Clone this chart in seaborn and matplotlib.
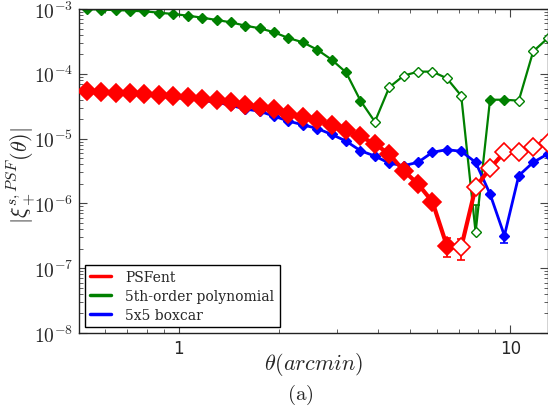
import numpy as np
import matplotlib
matplotlib.use("Agg")
import matplotlib.pyplot as plt
import seaborn as sns
from matplotlib.ticker import LogLocator, FixedLocator, FuncFormatter, NullFormatter

# ---- data ----
theta = [0.528, 0.584, 0.645, 0.713, 0.788, 0.871, 0.963, 1.064, 1.176, 1.300,
         1.436, 1.587, 1.755, 1.939, 2.143, 2.369, 2.618, 2.893, 3.197, 3.533,
         3.905, 4.315, 4.769, 5.271, 5.825, 6.437, 7.114, 7.862, 8.690, 9.604,
         10.61, 11.73, 12.97]

psfent = [5.48e-5, 5.30e-5, 5.00e-5, 5.00e-5, 4.88e-5, 4.71e-5, 4.50e-5, 4.34e-5, 4.08e-5, 3.94e-5,
          3.63e-5, 3.34e-5, 3.04e-5, 2.86e-5, 2.40e-5, 2.13e-5, 1.96e-5, 1.62e-5, 1.37e-5, 1.08e-5,
          8.26e-6, 5.78e-6, 3.20e-6, 1.99e-6, 1.06e-6, 2.22e-7, 2.10e-7, 1.77e-6, 3.48e-6, 6.15e-6,
          6.15e-6, 7.34e-6, 8.55e-6]
psfent_open = [0]*26 + [1]*7
psfent_err = [0]*25 + [0.75e-7, 0.75e-7] + [0]*6

poly5 = [1.00e-3, 9.75e-4, 9.65e-4, 9.42e-4, 9.21e-4, 8.77e-4, 8.37e-4, 7.89e-4, 7.35e-4, 6.77e-4,
         6.23e-4, 5.53e-4, 5.04e-4, 4.37e-4, 3.56e-4, 3.06e-4, 2.35e-4, 1.65e-4, 1.05e-4, 3.85e-5,
         1.82e-5, 6.19e-5, 9.36e-5, 1.08e-4, 1.08e-4, 8.53e-5, 4.59e-5, 3.58e-7, 3.98e-5, 3.98e-5,
         3.85e-5, 2.22e-4, 3.53e-4]
poly5_open = [0]*20 + [1]*8 + [0, 0] + [1]*3
poly5_err_up = [0]*27 + [5.8e-7] + [0]*5

boxcar = [5.35e-5, 5.20e-5, 4.90e-5, 4.85e-5, 4.70e-5, 4.50e-5, 4.30e-5, 4.10e-5, 3.85e-5, 3.65e-5,
          3.25e-5, 2.86e-5, 2.64e-5, 2.22e-5, 1.86e-5, 1.63e-5, 1.43e-5, 1.16e-5, 9.14e-6, 6.50e-6,
          5.38e-6, 4.17e-6, 3.82e-6, 4.31e-6, 6.15e-6, 6.75e-6, 6.37e-6, 4.31e-6, 1.40e-6, 3.18e-7,
          2.68e-6, 4.31e-6, 5.78e-6]
boxcar_err = [0]*29 + [0.76e-7] + [0]*3

labels = ["PSFent", "5th-order polynomial", "5x5 boxcar"]
colors = ["#ff0000", "#008000", "#0000ff"]

# ---- style ----
sns.set_style("ticks")
plt.rcParams['font.family'] = ['DejaVu Sans']
plt.rcParams['mathtext.fontset'] = 'cm'

fig = plt.figure(figsize=(5.48, 4.10), dpi=100)
ax = fig.add_axes([79/548, 1-334/410, 469/548, 324/410])

th = np.array(theta)

def draw(vals, openflags, color, lw, ms, mew, label, yerr=None, z=2):
    vals = np.array(vals)
    op = np.array(openflags, dtype=bool)
    sns.lineplot(x=th, y=vals, color=color, lw=lw, ax=ax, label=label, sort=False, zorder=z)
    if yerr is not None:
        ax.errorbar(th, vals, yerr=yerr, fmt='none', ecolor=color, elinewidth=1.2,
                    capsize=3, capthick=1.2, zorder=z)
    ax.plot(th[~op], vals[~op], 'D', color=color, ms=ms, mew=mew, mec=color, mfc=color,
            linestyle='none', zorder=z + 0.5)
    ax.plot(th[op], vals[op], 'D', color=color, ms=ms, mew=mew, mec=color, mfc='white',
            linestyle='none', zorder=z + 0.5)

pe = np.array(psfent_err)
draw(psfent, psfent_open, colors[0], 3.0, 9, 1.2, labels[0], yerr=pe, z=4)
pu = np.array(poly5_err_up)
draw(poly5, poly5_open, colors[1], 1.6, 5.5, 1.0, labels[1],
     yerr=np.vstack([np.zeros_like(pu), pu]), z=2)
be = np.array(boxcar_err)
draw(boxcar, [0]*33, colors[2], 2.0, 5.5, 1.0, labels[2],
     yerr=np.vstack([be, np.zeros_like(be)]), z=3)

ax.set_xscale('log')
ax.set_yscale('log')
ax.set_xlim(0.5, 13.0)
ax.set_ylim(1e-8, 1e-3)

ax.yaxis.set_major_locator(FixedLocator([1e-8, 1e-7, 1e-6, 1e-5, 1e-4, 1e-3]))
ax.yaxis.set_major_formatter(FuncFormatter(lambda v, p: r"$10^{%d}$" % int(round(np.log10(v)))))
ax.yaxis.set_minor_locator(LogLocator(base=10, subs=np.arange(2, 10), numticks=20))
ax.yaxis.set_minor_formatter(NullFormatter())
ax.xaxis.set_major_locator(FixedLocator([1, 10]))
ax.xaxis.set_major_formatter(FuncFormatter(lambda v, p: "%d" % v))
ax.xaxis.set_minor_locator(LogLocator(base=10, subs=np.arange(2, 10), numticks=20))
ax.xaxis.set_minor_formatter(NullFormatter())

ax.tick_params(which='both', direction='in', top=True, right=True, color='#444444')
ax.tick_params(which='major', length=6, width=0.8)
ax.tick_params(which='minor', length=3, width=0.6)
ax.tick_params(axis='y', which='major', labelsize=14, pad=4)
ax.tick_params(axis='x', which='major', labelsize=12, pad=4)
for s in ax.spines.values():
    s.set_color('#222222')
    s.set_linewidth(1.0)

ax.set_ylabel(r"$|\xi_+^{s,PSF}(\theta)|$", fontsize=16, va='center')
ax.yaxis.set_label_coords(-0.124, 0.49)
ax.set_xlabel(r"$\theta(arcmin)$", fontsize=16, va='center')
ax.xaxis.set_label_coords(0.5, -0.093)
fig.text(300/548, 1-395/410, r"$(\mathrm{a})$", fontsize=15, ha='center', va='center')

leg = ax.legend(loc='lower left', bbox_to_anchor=(0.0, 0.0), fancybox=False,
                edgecolor='black', framealpha=1.0, handlelength=1.5,
                prop={'family': 'DejaVu Serif', 'size': 10}, borderaxespad=0.4,
                labelspacing=0.35, handletextpad=1.0)
leg.get_frame().set_linewidth(1.0)
for line in leg.get_lines():
    line.set_linewidth(2.5)

fig.savefig("out.png", dpi=100)
